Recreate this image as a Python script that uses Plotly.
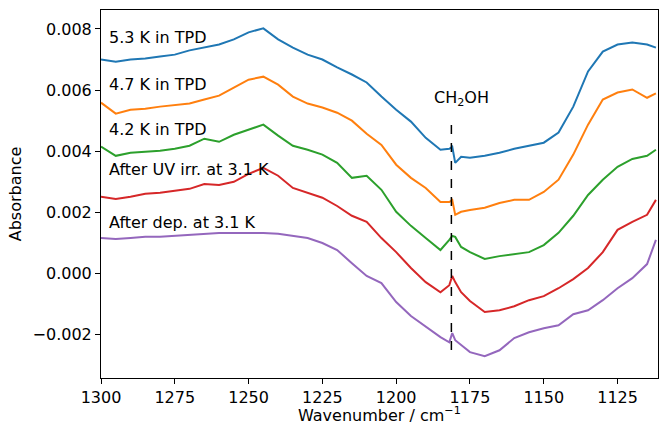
import plotly.graph_objects as go

wavenumber = [1300, 1295, 1290, 1285, 1280, 1275, 1270, 1265, 1260, 1255, 1250, 1245,
              1240, 1235, 1230, 1225, 1220, 1215, 1210, 1205, 1200, 1195, 1190, 1185,
              1182, 1181, 1180, 1178, 1175, 1170, 1165, 1160, 1155, 1150, 1145, 1140,
              1135, 1130, 1125, 1120, 1115, 1112]

# absorbance values in units of 1e-3
tpd_53 = [7.00, 6.93, 7.00, 7.03, 7.10, 7.16, 7.30, 7.39, 7.49, 7.66, 7.89, 8.02,
          7.66, 7.39, 7.16, 7.00, 6.74, 6.51, 6.25, 5.79, 5.36, 4.97, 4.44, 4.05,
          4.08, 4.15, 3.62, 3.82, 3.79, 3.85, 3.95, 4.08, 4.18, 4.28, 4.61, 5.46,
          6.61, 7.26, 7.49, 7.56, 7.49, 7.39]
tpd_47 = [5.59, 5.23, 5.36, 5.39, 5.46, 5.52, 5.56, 5.69, 5.82, 6.08, 6.34, 6.44,
          6.18, 5.79, 5.56, 5.43, 5.26, 5.00, 4.57, 4.21, 3.56, 3.13, 2.80, 2.34,
          2.34, 2.41, 1.92, 2.02, 2.08, 2.15, 2.31, 2.41, 2.41, 2.67, 3.07, 3.89,
          4.87, 5.69, 5.92, 6.02, 5.75, 5.89]
tpd_42 = [4.15, 3.85, 3.95, 3.98, 4.02, 4.08, 4.18, 4.41, 4.31, 4.54, 4.70, 4.87,
          4.51, 4.18, 4.05, 3.89, 3.62, 3.13, 3.20, 2.74, 2.02, 1.56, 1.16, 0.77,
          1.10, 1.23, 1.20, 0.87, 0.70, 0.48, 0.57, 0.64, 0.70, 0.93, 1.33, 1.89,
          2.57, 3.07, 3.49, 3.75, 3.85, 4.05]
uv_irr = [2.51, 2.44, 2.51, 2.61, 2.64, 2.70, 2.77, 2.93, 2.90, 3.00, 3.26, 3.46,
          3.20, 2.80, 2.64, 2.48, 2.21, 1.89, 1.69, 1.16, 0.70, 0.18, -0.28, -0.61,
          -0.38, -0.08, -0.28, -0.61, -0.90, -1.26, -1.20, -1.07, -0.87, -0.74, -0.48, -0.18,
          0.18, 0.70, 1.43, 1.69, 1.92, 2.41]
after_dep = [1.16, 1.13, 1.16, 1.20, 1.20, 1.23, 1.26, 1.30, 1.33, 1.33, 1.33, 1.33,
             1.30, 1.23, 1.16, 1.00, 0.77, 0.34, -0.08, -0.31, -0.93, -1.39, -1.75, -2.08,
             -2.25, -1.95, -2.18, -2.34, -2.57, -2.70, -2.51, -2.11, -1.92, -1.79, -1.69, -1.33,
             -1.20, -0.87, -0.48, -0.15, 0.31, 1.10]

series = [
    ("After dep. at 3.1 K", after_dep, "#9467bd", 1.66),
    ("After UV irr. at 3.1 K", uv_irr, "#d62728", 3.39),
    ("4.2 K in TPD", tpd_42, "#2ca02c", 4.70),
    ("4.7 K in TPD", tpd_47, "#ff7f0e", 6.18),
    ("5.3 K in TPD", tpd_53, "#1f77b4", 7.72),
]

label_x = 1298
ch2oh_x = 1181.3
ch2oh_line = [-2.5e-3, 5.0e-3]

fig = go.Figure()
for name, vals, color, _ in series:
    fig.add_trace(go.Scatter(x=wavenumber, y=[v * 1e-3 for v in vals], mode="lines",
                             name=name, line=dict(color=color, width=2), showlegend=False))

fig.add_trace(go.Scatter(x=[ch2oh_x, ch2oh_x], y=ch2oh_line, mode="lines",
                         line=dict(color="black", width=1.5, dash="dash"), showlegend=False))

font = dict(family="DejaVu Sans", size=16, color="black")
for name, _, _, ly in series:
    fig.add_annotation(x=label_x, y=ly * 1e-3, text=name, showarrow=False,
                       xanchor="left", yanchor="middle", font=font)
fig.add_annotation(x=1178, y=5.72e-3, text="CH<sub>2</sub>OH", showarrow=False,
                   xanchor="center", yanchor="middle", font=font)
# x-axis title placed as a paper annotation below the tick labels
fig.add_annotation(x=0.5, y=-0.066, xref="paper", yref="paper",
                   text="Wavenumber / cm<sup>−1</sup>", showarrow=False,
                   xanchor="center", yanchor="top", font=font)

axis_common = dict(showline=True, linecolor="black", linewidth=1, mirror=True,
                   ticks="outside", ticklen=5, tickcolor="black", showgrid=False,
                   zeroline=False, tickfont=font, automargin=False)
fig.update_xaxes(range=[1300, 1111.3], tickvals=[1300, 1275, 1250, 1225, 1200, 1175, 1150, 1125],
                 **axis_common)
fig.update_yaxes(range=[-0.003416, 0.00862], tickvals=[-0.002, 0, 0.002, 0.004, 0.006, 0.008],
                 tickformat=".3f", title=dict(text="Absorbance", font=font, standoff=6),
                 **axis_common)
fig.update_layout(width=659, height=426, margin=dict(l=101, r=1, t=10, b=48),
                  plot_bgcolor="white", paper_bgcolor="white", font=font)
fig.write_html("out.html", config={"displayModeBar": False},
               post_script="document.body.style.margin='0';document.body.style.overflow='hidden';")
